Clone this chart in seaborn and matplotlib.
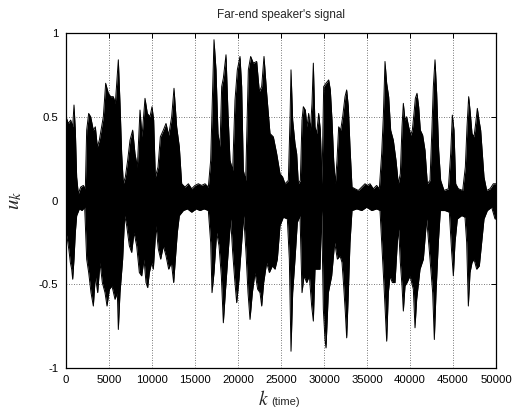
import numpy as np
import pandas as pd
import matplotlib
matplotlib.use("Agg")
import matplotlib.pyplot as plt
import seaborn as sns

# Peak envelope of the far-end speech signal u_k (sample index, amplitude)
k_upper = [0, 271, 543, 775, 930, 1085, 1240, 1434, 1705, 2015, 2248, 2403, 2636, 2868,
           3178, 3411, 3643, 3876, 4147, 4341, 4612, 4922, 5194, 5504, 5736, 6085, 6279,
           6473, 6667, 6899, 7171, 7442, 7752, 8023, 8295, 8605, 8837, 9186, 9457, 9767,
           10000, 10194, 10388, 10698, 10969, 11318, 11628, 11938, 12287, 12558, 12868,
           13178, 13450, 13837, 14225, 14613, 15000, 15388, 15775, 16163, 16551, 16822,
           16977, 17209, 17442, 17674, 17907, 18101, 18295, 18605, 18837, 19070, 19380,
           19651, 19922, 20233, 20427, 20620, 20892, 21202, 21473, 21783, 22171, 22481,
           22752, 23023, 23333, 23721, 24109, 24496, 24884, 25194, 25465, 25853, 26047,
           26163, 26357, 26628, 26822, 27016, 27249, 27442, 27597, 27830, 28023, 28217,
           28411, 28605, 28760, 28954, 29147, 29380, 29574, 29767, 29961, 30233, 30543,
           30736, 30930, 31124, 31318, 31512, 31706, 31938, 32171, 32442, 32636, 32830,
           33023, 33256, 33605, 33992, 34380, 34768, 35039, 35349, 35736, 36124, 36434,
           36705, 36899, 37093, 37287, 37519, 37752, 38062, 38372, 38643, 38876, 39070,
           39225, 39419, 39612, 39845, 40078, 40271, 40465, 40620, 40814, 41008, 41202,
           41473, 41744, 42016, 42326, 42558, 42713, 42907, 43101, 43333, 43566, 43953,
           44457, 44729, 44922, 45116, 45310, 45620, 46124, 46434, 46628, 46822, 47016,
           47209, 47442, 47636, 47829, 48023, 48217, 48411, 48605, 48915, 49302, 49690,
           50000]
u_upper = [0.50, 0.46, 0.48, 0.44, 0.57, 0.42, 0.14, 0.04, 0.08, 0.09, 0.07, 0.42, 0.52, 0.50,
           0.42, 0.44, 0.32, 0.36, 0.44, 0.50, 0.70, 0.64, 0.62, 0.62, 0.58, 0.84, 0.58,
           0.28, 0.10, 0.14, 0.24, 0.36, 0.42, 0.28, 0.20, 0.54, 0.38, 0.61, 0.52, 0.50,
           0.56, 0.48, 0.14, 0.20, 0.38, 0.42, 0.46, 0.39, 0.50, 0.67, 0.44,
           0.32, 0.10, 0.08, 0.10, 0.07, 0.09, 0.10, 0.09, 0.10, 0.08, 0.24,
           0.52, 0.96, 0.78, 0.40, 0.32, 0.68, 0.73, 0.87, 0.52, 0.24, 0.18,
           0.60, 0.78, 0.86, 0.68, 0.18, 0.12, 0.78, 0.86, 0.82, 0.83, 0.65,
           0.68, 0.86, 0.64, 0.40, 0.38, 0.28, 0.16, 0.14, 0.10, 0.12, 0.48,
           0.78, 0.48, 0.34, 0.28, 0.10, 0.12, 0.48, 0.56, 0.54, 0.44, 0.52,
           0.42, 0.58, 0.82, 0.44, 0.40, 0.52, 0.42, 0.10, 0.68, 0.70, 0.72,
           0.66, 0.48, 0.24, 0.10, 0.24, 0.44, 0.42, 0.50, 0.62, 0.66, 0.56,
           0.32, 0.08, 0.07, 0.06, 0.08, 0.10, 0.09, 0.10, 0.07, 0.09, 0.07,
           0.28, 0.50, 0.83, 0.70, 0.62, 0.42, 0.36, 0.24, 0.10, 0.16, 0.44,
           0.58, 0.48, 0.50, 0.44, 0.39, 0.42, 0.52, 0.61, 0.64, 0.56, 0.42,
           0.39, 0.30, 0.10, 0.12, 0.44, 0.68, 0.84, 0.64, 0.30, 0.12, 0.06,
           0.07, 0.28, 0.51, 0.42, 0.10, 0.07, 0.06, 0.20, 0.44, 0.62, 0.52,
           0.40, 0.38, 0.46, 0.55, 0.48, 0.42, 0.28, 0.14, 0.06, 0.07, 0.10,
           0.10]

k_lower = [0, 155, 349, 504, 659, 775, 930, 1085, 1240, 1550, 1860, 2171, 2403, 2636,
           2907, 3178, 3411, 3682, 3953, 4225, 4535, 4767, 5039, 5349, 5698, 5969, 6085,
           6279, 6589, 6822, 7054, 7364, 7636, 7907, 8217, 8527, 8799, 9070, 9302, 9496,
           9690, 9961, 10155, 10465, 10736, 11008, 11318, 11628, 11938, 12248, 12519,
           12713, 12946, 13178, 13643, 14109, 14613, 15116, 15581, 16047, 16551, 16822,
           16977, 17209, 17519, 17791, 18062, 18295, 18527, 18798, 19147, 19380, 19612,
           19845, 20116, 20427, 20659, 20930, 21163, 21396, 21667, 21977, 22287, 22558,
           22752, 22985, 23333, 23643, 23992, 24302, 24573, 24884, 25271, 25736, 25969,
           26163, 26357, 26628, 26899, 27209, 27442, 27674, 27984, 28295, 28566, 28760,
           28954, 29225, 29535, 29729, 29922, 30116, 30233, 30504, 30891, 31240, 31551,
           31861, 32093, 32287, 32481, 32636, 32830, 33023, 33256, 33798, 34380, 34961,
           35543, 36124, 36512, 36705, 36977, 37287, 37481, 37674, 37946, 38256, 38527,
           38682, 38876, 39070, 39225, 39419, 39651, 40000, 40388, 40581, 40775, 41163,
           41551, 41938, 42326, 42636, 42829, 43023, 43295, 43527, 44070, 44574, 44845,
           45039, 45233, 45504, 46008, 46395, 46589, 46783, 46977, 47209, 47442, 47752,
           48062, 48333, 48605, 48992, 49496, 49884, 50000]
u_lower = [-0.19, -0.23, -0.30, -0.37, -0.41, -0.47, -0.35, -0.19, -0.09, -0.05, -0.06, -0.04, -0.35, -0.43,
           -0.55, -0.63, -0.45, -0.55, -0.37, -0.49, -0.55, -0.63, -0.53, -0.51, -0.59, -0.55, -0.77,
           -0.55, -0.35, -0.09, -0.15, -0.27, -0.31, -0.19, -0.27, -0.43, -0.45, -0.35, -0.49, -0.52,
           -0.43, -0.37, -0.41, -0.15, -0.29, -0.35, -0.27, -0.33, -0.41, -0.37, -0.49,
           -0.35, -0.19, -0.09, -0.06, -0.05, -0.07, -0.05, -0.06, -0.05, -0.06, -0.25,
           -0.55, -0.43, -0.19, -0.27, -0.45, -0.73, -0.55, -0.35, -0.11, -0.31, -0.47,
           -0.61, -0.47, -0.25, -0.09, -0.31, -0.55, -0.71, -0.55, -0.43, -0.53, -0.55,
           -0.63, -0.49, -0.37, -0.43, -0.39, -0.41, -0.35, -0.15, -0.10, -0.11, -0.35,
           -0.90, -0.55, -0.35, -0.13, -0.09, -0.55, -0.45, -0.49, -0.45, -0.63, -0.72,
           -0.41, -0.41, -0.41, -0.06, -0.65, -0.83, -0.88, -0.55, -0.45, -0.25, -0.35,
           -0.33, -0.37, -0.51, -0.67, -0.82, -0.55, -0.25, -0.06, -0.05, -0.06, -0.04,
           -0.06, -0.05, -0.06, -0.25, -0.51, -0.84, -0.55, -0.45, -0.49, -0.49, -0.25,
           -0.17, -0.37, -0.51, -0.66, -0.51, -0.49, -0.45, -0.53, -0.76, -0.59, -0.41,
           -0.35, -0.11, -0.35, -0.55, -0.83, -0.55, -0.25, -0.06, -0.06, -0.07, -0.31,
           -0.45, -0.25, -0.11, -0.09, -0.10, -0.25, -0.63, -0.43, -0.37, -0.35, -0.41,
           -0.39, -0.25, -0.11, -0.06, -0.04, -0.11, -0.11]

x_ticks = [0, 5000, 10000, 15000, 20000, 25000, 30000, 35000, 40000, 45000, 50000]
y_ticks = [-1, -0.5, 0, 0.5, 1]
y_tick_labels = ["-1", "-0.5", "0", "0.5", "1"]

sns.set_style("white")
plt.rcParams["font.family"] = ["Liberation Sans", "DejaVu Sans"]
plt.rcParams["mathtext.fontset"] = "stix"

fig = plt.figure(figsize=(5.16, 4.11), dpi=100)
ax = fig.add_axes([66 / 516, 1 - 368 / 411, 430 / 516, 335 / 411])

upper = pd.DataFrame({"k": k_upper, "u": u_upper})
lower = pd.DataFrame({"k": k_lower, "u": u_lower})

# Dense black waveform: area between the positive and negative peak envelopes
ax.fill_between(upper["k"], 0, upper["u"], color="black", linewidth=0, zorder=3)
ax.fill_between(lower["k"], lower["u"], 0, color="black", linewidth=0, zorder=3)
sns.lineplot(data=upper, x="k", y="u", ax=ax, color="black", linewidth=0.7, zorder=4)
sns.lineplot(data=lower, x="k", y="u", ax=ax, color="black", linewidth=0.7, zorder=4)

ax.set_xlim(0, 50000)
ax.set_ylim(-1, 1)
ax.set_xticks(x_ticks)
ax.set_xticklabels([str(t) for t in x_ticks])
ax.set_yticks(y_ticks)
ax.set_yticklabels(y_tick_labels)
ax.set_xlabel("")
ax.set_ylabel("")

ax.grid(True, color="#4d4d4d", linestyle=(0, (1, 2)), linewidth=0.6, zorder=1)
ax.set_axisbelow(True)
for side in ax.spines.values():
    side.set_visible(True)
    side.set_color("black")
    side.set_linewidth(0.9)
    side.set_zorder(5)

ax.tick_params(axis="both", which="major", direction="in", length=3.5, width=0.7,
               top=True, right=True, labelsize=8.2, colors="black")
ax.tick_params(axis="x", pad=5)
ax.tick_params(axis="y", pad=5.5)

ax.set_title("Far-end speaker's signal", fontsize=8.5, pad=11)

fig.text(14 / 516, 1 - 200 / 411, r"$u_k$", rotation=90, fontsize=15,
         ha="center", va="center")
fig.text(258 / 516, 1 - 405 / 411, r"$k$", fontsize=14, ha="left", va="baseline")
fig.text(271 / 516, 1 - 405 / 411, "(time)", fontsize=8, ha="left", va="baseline")

fig.savefig("out.png", dpi=100)
